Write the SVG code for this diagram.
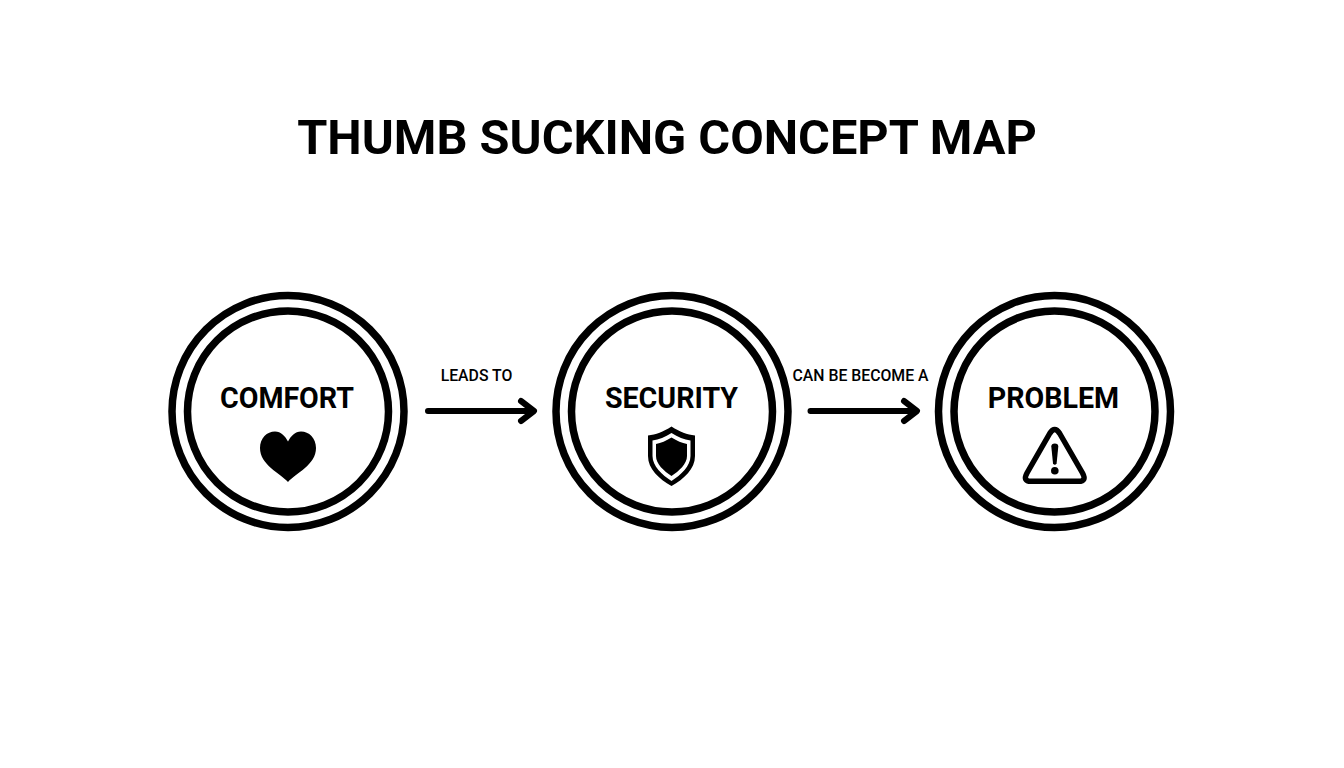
<svg xmlns="http://www.w3.org/2000/svg" width="1344" height="768" viewBox="0 0 1344 768">
<style>
text{font-family:Roboto,"Liberation Sans",sans-serif;font-weight:700;fill:#000;text-anchor:middle}
.title{font-size:48.700px}
.name{font-size:28.600px}
.lab{font-size:15.800px;font-weight:500}
.ring{fill:none;stroke:#000;stroke-width:7.500}
.line{fill:none;stroke:#000;stroke-width:6;stroke-linecap:round;stroke-linejoin:round}
</style>
<rect width="1344" height="768" fill="#fff"/>
<text id="title" class="title" x="667" y="154">THUMB SUCKING CONCEPT MAP</text>
<g id="comfort">
<circle class="ring" cx="288" cy="411.500" r="116"/>
<circle class="ring" cx="288" cy="411.500" r="100.500"/>
<text class="name" x="287" y="407.700">COMFORT</text>
<path d="M288 482C280 473 260 465 260 448C260 438 267 431.500 275 431.500C281 431.500 285 436 288 441.500C291 436 295 431.500 301 431.500C309 431.500 316 438 316 448C316 465 296 473 288 482Z" fill="#000"/>
</g>
<g id="security">
<circle class="ring" cx="672" cy="411.500" r="116"/>
<circle class="ring" cx="672" cy="411.500" r="100.500"/>
<text class="name" x="671.500" y="407.700">SECURITY</text>
<path d="M671.500 426.500C680 432 687 434.500 695 435.500V456C695 469 684 479 671.500 486C659 479 648 469 648 456V435.500C656 434.500 663 432 671.500 426.500Z" fill="#000"/>
<path d="M671.500 433C678 437 684 439.500 690.500 440.500V456C690.500 466 681 475 671.500 481C662 475 652.500 466 652.500 456V440.500C659 439.500 665 437 671.500 433Z" fill="#fff"/>
<path d="M671.500 437.500C677 441 682 443 687 444V456C687 464 679 471 671.500 476C664 471 656 464 656 456V444C661 443 666 441 671.500 437.500Z" fill="#000"/>
</g>
<g id="problem">
<circle class="ring" cx="1054.500" cy="411.500" r="116"/>
<circle class="ring" cx="1054.500" cy="411.500" r="100.500"/>
<text class="name" x="1053.500" y="407.700">PROBLEM</text>
<path d="M1049.700 433.500L1027 473Q1022.500 481.300 1031 481.300H1078.500Q1087 481.300 1082.500 473L1059.700 433.500Q1054.700 425.500 1049.700 433.500Z" fill="none" stroke="#000" stroke-width="5.500" stroke-linejoin="round"/>
<path d="M1051.300 446.500Q1051.300 443.500 1054.800 443.500Q1058.300 443.500 1058.300 446.500L1056.600 463.500Q1054.800 466 1053 463.500Z" fill="#000"/>
<circle cx="1054.800" cy="470.800" r="3.800" fill="#000"/>
</g>
<g id="connectors">
<text class="lab" x="476.500" y="381.400">LEADS TO</text>
<path class="line" d="M428 411H533M521 401L534 411L521 421"/>
<text class="lab" x="860.500" y="381.400">CAN BE BECOME A</text>
<path class="line" d="M810.500 411H916M904 401L917 411L904 421"/>
</g>
</svg>
